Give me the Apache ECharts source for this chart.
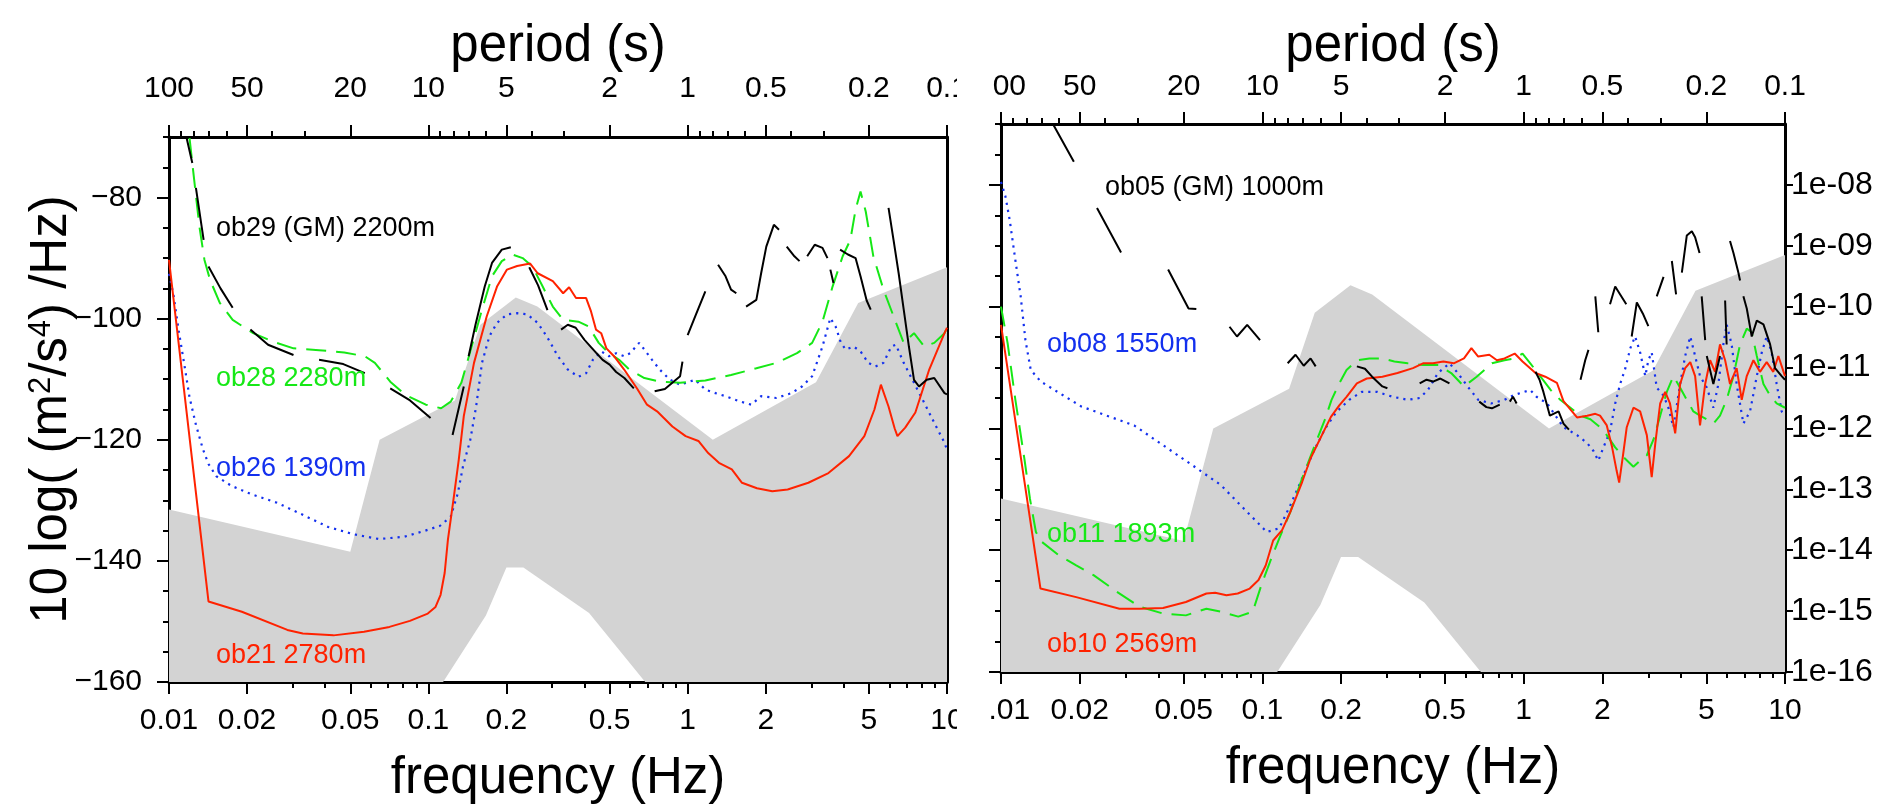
<!DOCTYPE html>
<html>
<head>
<meta charset="utf-8">
<title>OBS noise spectra</title>
<script src="https://cdn.jsdelivr.net/npm/echarts@6/dist/echarts.min.js"></script>
<style>
  html, body { margin: 0; padding: 0; background: #fff; }
  #chart { width: 1896px; height: 804px; }
</style>
</head>
<body>
<div id="chart"></div>
<script>
// ---- axis ticks ----
const freqTickLabels = ['0.01', '0.02', '0.05', '0.1', '0.2', '0.5', '1', '2', '5', '10'];
const freqMinorTicks = [0.03, 0.04, 0.06, 0.07, 0.08, 0.09, 0.3, 0.4, 0.6, 0.7, 0.8, 0.9, 3, 4, 6, 7, 8, 9];
const periodTickLabels = ['100', '50', '20', '10', '5', '2', '1', '0.5', '0.2', '0.1'];
const periodMinorTicks = [90, 80, 70, 60, 40, 30, 9, 8, 7, 6, 4, 3, 0.9, 0.8, 0.7, 0.6, 0.4, 0.3];
const dbTickValues = [-160, -140, -120, -100, -80];
const accelTickValues = [-160, -150, -140, -130, -120, -110, -100, -90, -80];
const accelTickLabels = ['1e-16', '1e-15', '1e-14', '1e-13', '1e-12', '1e-11', '1e-10', '1e-09', '1e-08'];

// ---- noise model band (grey), breakpoints in Hz / dB ----
const highModelFreq = [0.01, 0.05, 0.0649, 0.1266, 0.1587, 0.2174, 0.2632, 1.25, 3.125, 4.545, 10];
const highModelDb = [-131.5, -138.5, -120.0, -113.5, -101.0, -96.5, -98.0, -120.0, -110.5, -97.4, -91.5];
const lowModelFreq = [0.01, 0.0143, 0.0222, 0.0316, 0.0457, 0.0641, 0.0833, 0.1, 0.1667, 0.2, 0.2326, 0.4167, 0.8065, 1.25, 2.5, 5.882, 10];
const lowModelDb = [-185.1, -187.5, -187.5, -185.0, -177.5, -162.1, -166.2, -163.8, -149.0, -141.1, -141.1, -148.6, -163.7, -169.2, -166.7, -166.7, -168.0];

// ---- left panel ----
const ob29Freq = [
  0.0117, 0.0123, null,
  0.0127, 0.0136, null,
  0.0142, 0.0158, 0.0176, null,
  0.0206, 0.0241, 0.0302, null,
  0.0379, 0.047, 0.0569, null,
  0.0713, 0.085, 0.102, null,
  0.124, 0.137, null,
  0.143, 0.152, 0.165, 0.176, 0.192, 0.208, null,
  0.245, 0.265, 0.288, null,
  0.325, 0.345, 0.37, 0.40, 0.443, 0.47, 0.50, 0.53, 0.57, 0.62, null,
  0.746, 0.817, 0.935, 0.955, null,
  1.0, 1.07, 1.17, null,
  1.31, 1.40, 1.47, 1.54, null,
  1.68, 1.84, 1.92, 2.01, 2.15, 2.25, null,
  2.41, 2.58, 2.70, null,
  2.89, 3.09, 3.31, 3.46, null,
  3.55, 3.65, null,
  3.87, 4.15, 4.44, 4.64, 4.9, 5.08, null,
  5.95, 6.22, 6.51, 6.81, 7.13, 7.46, 7.80, 8.35, 8.93, 9.78, 10
];
const ob29Db = [
  -70.2, -74.3, null,
  -78.4, -87.0, null,
  -91.4, -95.0, -98.2, null,
  -101.8, -104.3, -106.0, null,
  -106.8, -107.5, -109.0, null,
  -111.5, -113.5, -116.4, null,
  -119.2, -111.2, null,
  -106.2, -101.0, -94.7, -90.8, -88.6, -88.2, null,
  -91.5, -94.5, -98.6, null,
  -101.8, -101.0, -101.5, -103.5, -105.6, -106.8, -107.6, -108.8, -109.8, -111.5, null,
  -112.0, -111.6, -109.5, -107.1, null,
  -102.7, -99.6, -95.5, null,
  -91.1, -93.0, -95.2, -95.8, null,
  -98.0, -96.9, -92.5, -88.1, -84.5, -85.3, null,
  -88.1, -89.7, -90.5, null,
  -89.7, -87.8, -88.3, -90.0, null,
  -91.9, -94.1, null,
  -88.6, -89.4, -90.0, -93.0, -97.0, -98.5, null,
  -81.7, -87.0, -92.5, -98.5, -104.6, -110.1, -111.2, -110.1, -109.8, -112.3, -112.5
];
const ob28Freq = [0.012, 0.0125, 0.0131, 0.0137, 0.0144, 0.0157, 0.0176, 0.0211, 0.0252, 0.0302, 0.0379, 0.0474, 0.0569, 0.0622, 0.0713, 0.0817, 0.0978, 0.112, 0.122, 0.134, 0.147, 0.161, 0.176, 0.192, 0.211, 0.231, 0.252, 0.276, 0.302, 0.331, 0.379, 0.415, 0.454, 0.497, 0.544, 0.595, 0.681, 0.780, 0.935, 1.17, 1.47, 1.84, 2.20, 2.64, 3.02, 3.31, 3.62, 3.96, 4.24, 4.44, 4.64, 4.86, 5.20, 5.69, 6.22, 6.81, 7.46, 8.17, 8.93, 9.78, 10];
const ob28Db = [-70.2, -77.0, -84.8, -90.3, -93.6, -97.4, -100.2, -102.4, -103.8, -104.9, -105.2, -105.6, -106.2, -107.3, -110.4, -112.6, -114.2, -114.8, -113.7, -110.6, -104.6, -98.5, -93.0, -90.5, -89.4, -90.0, -91.4, -94.7, -98.0, -100.2, -100.5, -101.3, -104.0, -105.7, -106.8, -108.4, -109.8, -110.4, -110.6, -110.2, -109.3, -108.2, -107.3, -105.7, -104.0, -100.5, -94.7, -89.7, -87.0, -82.0, -79.0, -82.3, -89.7, -95.2, -99.6, -104.0, -102.4, -104.6, -104.0, -102.4, -101.5];
const ob26Freq = [0.01, 0.0104, 0.0109, 0.0115, 0.0120, 0.0127, 0.0135, 0.0142, 0.0152, 0.0174, 0.0208, 0.0261, 0.0328, 0.0411, 0.0515, 0.0646, 0.081, 0.0974, 0.111, 0.122, 0.130, 0.136, 0.145, 0.153, 0.161, 0.172, 0.184, 0.201, 0.220, 0.241, 0.264, 0.286, 0.316, 0.345, 0.379, 0.406, 0.431, 0.464, 0.497, 0.53, 0.569, 0.60, 0.65, 0.681, 0.729, 0.78, 0.855, 0.935, 1.07, 1.17, 1.28, 1.40, 1.60, 1.76, 1.92, 2.20, 2.51, 2.76, 3.02, 3.31, 3.55, 3.72, 3.9, 4.07, 4.36, 4.64, 4.97, 5.3, 5.69, 6.1, 6.35, 6.81, 7.46, 8.17, 8.93, 9.68, 10];
const ob26Db = [-92.6, -96.0, -102.0, -108.0, -113.0, -117.5, -121.5, -124.0, -126.0, -127.6, -129.0, -130.4, -132.4, -134.4, -135.6, -136.4, -136.0, -135.0, -134.2, -132.7, -128.8, -124.4, -120.1, -114.4, -107.3, -102.9, -100.7, -99.3, -99.1, -99.3, -100.7, -102.9, -106.2, -108.4, -109.6, -109.0, -106.8, -105.4, -106.2, -105.7, -106.2, -105.7, -104.0, -105.1, -106.8, -108.4, -110.1, -110.9, -110.1, -111.7, -112.3, -112.8, -113.7, -114.2, -112.8, -113.1, -112.3, -111.2, -109.5, -104.6, -99.9, -101.3, -104.0, -105.1, -104.6, -105.4, -107.3, -107.9, -107.3, -104.6, -104.3, -107.3, -110.6, -113.9, -117.2, -120.1, -121.6];
const ob21Freq = [0.01, 0.0142, 0.0191, 0.0286, 0.0328, 0.0431, 0.0565, 0.0708, 0.0849, 0.0995, 0.1066, 0.1115, 0.1156, 0.119, 0.125, 0.131, 0.137, 0.150, 0.168, 0.184, 0.201, 0.220, 0.247, 0.264, 0.302, 0.331, 0.349, 0.371, 0.406, 0.424, 0.443, 0.464, 0.486, 0.520, 0.569, 0.637, 0.697, 0.762, 0.873, 0.982, 1.10, 1.20, 1.32, 1.48, 1.62, 1.85, 2.12, 2.43, 2.92, 3.49, 4.19, 4.80, 5.25, 5.56, 5.95, 6.28, 6.44, 6.90, 7.55, 8.54, 9.78, 10];
const ob21Db = [-90.3, -146.7, -148.4, -151.4, -152.0, -152.3, -151.7, -150.9, -149.9, -148.7, -147.6, -145.6, -142.0, -136.5, -129.9, -123.3, -116.1, -107.3, -99.6, -94.7, -91.9, -91.3, -90.9, -92.5, -93.8, -95.8, -94.8, -96.6, -96.6, -98.8, -101.8, -102.4, -104.9, -106.2, -108.4, -111.5, -114.2, -115.3, -117.8, -119.4, -120.2, -122.2, -123.8, -124.9, -127.1, -128.0, -128.5, -128.2, -127.1, -125.5, -122.7, -119.4, -115.0, -110.9, -114.5, -118.1, -119.4, -118.0, -115.5, -108.4, -102.4, -101.5];

// ---- right panel ----
const ob05Freq = [
  0.0159, 0.019, null,
  0.0233, 0.0288, null,
  0.0436, 0.0522, 0.0559, null,
  0.0749, 0.080, 0.0875, 0.098, null,
  0.125, 0.134, 0.144, 0.153, 0.160, null,
  0.230, 0.247, 0.263, 0.288, 0.301, null,
  0.40, 0.425, 0.45, 0.48, 0.52, null,
  0.676, 0.72, 0.756, 0.81, null,
  0.885, 0.91, 0.94, null,
  1.11, 1.15, 1.19, 1.26, 1.36, 1.42, 1.49, null,
  1.65, 1.72, 1.77, null,
  1.88, 1.93, null,
  2.14, 2.24, 2.34, 2.47, null,
  2.59, 2.71, 2.87, 3.00, null,
  3.23, 3.43, null,
  3.69, 3.83, null,
  4.03, 4.21, 4.40, 4.53, 4.71, null,
  4.80, 4.95, null,
  5.02, 5.32, 5.64, null,
  5.90, 5.98, null,
  6.16, 6.35, 6.63, 6.73, null,
  6.93, 7.14, 7.46, 7.80, 8.27, 8.77, 9.16, 9.71, 10
];
const ob05Db = [
  -70.2, -76.2, null,
  -83.8, -91.1, null,
  -93.9, -100.3, -100.4, null,
  -103.3, -104.9, -103.0, -105.5, null,
  -109.3, -107.9, -109.7, -108.5, -109.8, null,
  -109.8, -110.2, -111.5, -113.1, -113.4, null,
  -112.6, -112.0, -112.3, -111.8, -112.6, null,
  -115.6, -116.5, -116.7, -116.1, null,
  -115.6, -114.8, -115.9, null,
  -110.7, -112.0, -114.0, -117.9, -117.2, -119.2, -120.2, null,
  -112.0, -108.8, -107.1, null,
  -98.3, -104.2, null,
  -99.6, -96.7, -98.0, -99.6, null,
  -104.9, -99.3, -101.3, -103.2, null,
  -98.3, -95.1, null,
  -92.5, -98.0, null,
  -94.4, -88.3, -87.6, -88.6, -91.2, null,
  -98.3, -105.5, null,
  -108.1, -112.7, -108.1, null,
  -99.0, -106.2, null,
  -89.2, -91.2, -94.4, -95.7, null,
  -98.3, -100.3, -104.9, -102.3, -102.9, -106.2, -110.1, -111.4, -112.0
];
const ob08Freq = [0.01, 0.0104, 0.0108, 0.0113, 0.0119, 0.0124, 0.013, 0.0142, 0.0203, 0.0323, 0.0538, 0.0694, 0.0851, 0.104, 0.116, 0.128, 0.142, 0.157, 0.174, 0.192, 0.215, 0.240, 0.275, 0.315, 0.36, 0.40, 0.43, 0.47, 0.52, 0.56, 0.61, 0.67, 0.75, 0.845, 0.92, 1.06, 1.12, 1.23, 1.42, 1.60, 1.75, 1.85, 1.93, 2.02, 2.14, 2.24, 2.34, 2.45, 2.56, 2.67, 2.79, 2.92, 3.00, 3.09, 3.23, 3.43, 3.58, 3.74, 3.97, 4.15, 4.34, 4.53, 4.73, 5.02, 5.32, 5.56, 5.81, 5.98, 6.25, 6.53, 6.93, 7.35, 7.80, 8.15, 8.51, 8.89, 9.29, 9.71, 10];
const ob08Db = [-79.5, -81.9, -85.8, -91.8, -98.4, -105.5, -110.4, -112.3, -116.4, -119.5, -126.0, -129.3, -133.2, -137.0, -136.4, -132.6, -128.2, -123.8, -120.0, -117.3, -115.3, -114.0, -114.0, -114.8, -115.3, -115.0, -113.7, -110.9, -109.3, -110.9, -113.1, -115.3, -115.9, -115.3, -114.5, -113.7, -114.8, -115.9, -119.8, -121.1, -122.4, -123.7, -125.3, -123.1, -120.5, -115.9, -112.7, -110.1, -106.8, -104.9, -107.5, -111.4, -108.8, -107.5, -113.3, -114.6, -116.6, -119.8, -112.7, -108.1, -104.9, -108.1, -111.4, -113.3, -116.6, -112.7, -106.2, -102.9, -106.2, -112.7, -119.2, -117.2, -111.4, -107.5, -104.9, -107.5, -112.7, -117.2, -117.9];
const ob11Freq = [0.01, 0.0106, 0.01135, 0.0123, 0.0129, 0.0136, 0.0143, 0.0166, 0.0194, 0.0226, 0.0277, 0.034, 0.0417, 0.051, 0.0611, 0.0694, 0.0809, 0.0919, 0.099, 0.107, 0.116, 0.128, 0.142, 0.157, 0.174, 0.184, 0.197, 0.21, 0.23, 0.257, 0.288, 0.32, 0.36, 0.412, 0.472, 0.528, 0.591, 0.661, 0.756, 0.845, 0.925, 0.99, 1.06, 1.16, 1.27, 1.38, 1.51, 1.65, 1.80, 1.96, 2.08, 2.24, 2.41, 2.63, 2.79, 2.96, 3.14, 3.33, 3.53, 3.74, 3.97, 4.21, 4.46, 4.73, 5.02, 5.32, 5.64, 5.98, 6.35, 6.73, 7.14, 7.46, 7.80, 8.27, 8.77, 9.29, 10];
const ob11Db = [-100.0, -106.0, -115.3, -125.1, -131.5, -137.0, -138.6, -140.8, -142.5, -144.1, -146.8, -149.3, -150.4, -150.7, -149.6, -150.1, -150.9, -150.1, -145.8, -141.9, -138.1, -133.7, -128.2, -123.3, -118.4, -115.3, -112.6, -110.4, -108.8, -108.5, -108.5, -109.0, -109.3, -109.6, -109.6, -110.9, -113.1, -111.5, -109.3, -108.8, -108.5, -107.7, -109.3, -111.5, -113.7, -115.3, -116.6, -117.9, -118.5, -119.8, -121.1, -123.1, -124.7, -126.3, -125.3, -124.4, -121.8, -117.9, -114.0, -111.4, -113.3, -115.3, -117.2, -117.9, -118.5, -119.2, -117.9, -115.3, -111.4, -106.2, -103.6, -104.2, -108.1, -112.7, -114.6, -115.9, -116.6];
const ob10Freq = [0.01, 0.01416, 0.0194, 0.0284, 0.034, 0.0417, 0.051, 0.0611, 0.066, 0.0729, 0.0805, 0.0895, 0.0967, 0.103, 0.110, 0.119, 0.128, 0.142, 0.153, 0.169, 0.183, 0.197, 0.21, 0.23, 0.251, 0.288, 0.329, 0.377, 0.412, 0.45, 0.493, 0.54, 0.591, 0.631, 0.67, 0.739, 0.79, 0.845, 0.924, 0.99, 1.11, 1.21, 1.34, 1.42, 1.60, 1.75, 1.88, 1.96, 2.08, 2.18, 2.27, 2.32, 2.40, 2.48, 2.63, 2.79, 2.96, 3.09, 3.19, 3.33, 3.48, 3.63, 3.80, 3.97, 4.15, 4.34, 4.53, 4.73, 4.95, 5.17, 5.40, 5.64, 5.90, 6.16, 6.53, 6.83, 7.14, 7.57, 8.02, 8.51, 9.02, 9.43, 10];
const ob10Db = [-103.0, -146.3, -147.7, -149.6, -149.6, -149.5, -148.5, -147.1, -147.0, -147.4, -147.1, -146.3, -144.9, -142.5, -138.4, -136.7, -133.7, -128.8, -124.9, -121.1, -118.1, -116.2, -114.8, -112.6, -111.8, -111.5, -110.9, -110.1, -109.3, -109.3, -109.0, -109.3, -108.5, -106.8, -108.2, -107.9, -108.8, -108.5, -107.7, -109.0, -110.9, -111.5, -112.5, -115.5, -118.2, -117.9, -117.6, -117.9, -119.5, -123.1, -127.0, -128.9, -124.4, -119.8, -116.6, -117.2, -121.1, -128.0, -122.4, -115.9, -114.0, -115.9, -120.8, -112.7, -110.1, -109.1, -111.4, -119.5, -112.7, -108.8, -110.7, -106.2, -108.8, -112.7, -110.1, -115.3, -111.4, -108.8, -110.7, -109.1, -110.7, -108.1, -111.4];

const FONT = '"Liberation Sans", Arial, Helvetica, sans-serif';
const RED = '#ff2200', GREEN = '#16e816', BLUE = '#1330ee', BLACK = '#000';
const MINUS = '\u2212';

function pairs(f, d) {
  return f.map((x, i) => (x === null || d[i] === null) ? ['-', '-'] : [x, d[i]]);
}
function nearestLabel(labels, v) {
  let best = 0, err = Infinity;
  labels.forEach((s, i) => {
    const e = Math.abs(Math.log10(parseFloat(s)) - v);
    if (e < err) { err = e; best = i; }
  });
  return labels[best];
}
const dbMinor = [];
for (let v = -160; v <= -70; v += 5) dbMinor.push(v);

const panels = [
  { left: 169, top: 137, width: 778, height: 545, topMargin: 33, topGap: 65, yLabels: true },
  { left: 1001, top: 124, width: 784, height: 548, topMargin: 22, topGap: 52, yLabels: false }
];

const grid = [], xAxis = [], yAxis = [];
panels.forEach((p, g) => {
  grid.push({ left: p.left, top: p.top, width: p.width, height: p.height, outerBoundsMode: 'none', containLabel: false });

  // data axis (hidden log scale)
  xAxis.push({ type: 'log', gridIndex: g, logBase: 10, min: 0.01, max: 10, show: false });
  // frequency ticks
  xAxis.push({
    type: 'value', gridIndex: g, position: 'bottom', min: -2, max: 1,
    axisLine: { show: true, onZero: false, lineStyle: { color: '#000', width: 3 } },
    axisTick: { show: true, length: 12, lineStyle: { color: '#000', width: 2 },
      customValues: freqTickLabels.map(s => Math.log10(parseFloat(s))) },
    axisLabel: { show: true, customValues: freqTickLabels.map(s => Math.log10(parseFloat(s))),
      formatter: v => nearestLabel(freqTickLabels, v),
      fontSize: 30, color: '#000', fontFamily: FONT, margin: 24 },
    splitLine: { show: false },
    name: 'frequency (Hz)', nameLocation: 'middle', nameGap: 71, nameMoveOverlap: false,
    nameTextStyle: { fontSize: 51, color: '#000', fontFamily: FONT }
  });
  xAxis.push({
    type: 'value', gridIndex: g, position: 'bottom', min: -2, max: 1,
    axisLine: { show: false, onZero: false },
    axisTick: { show: true, length: 6, lineStyle: { color: '#000', width: 2 }, customValues: freqMinorTicks.map(Math.log10) },
    axisLabel: { show: false }, splitLine: { show: false }
  });
  // period ticks (top)
  xAxis.push({
    type: 'value', gridIndex: g, position: 'top', inverse: true, min: -1, max: 2,
    axisLine: { show: true, onZero: false, lineStyle: { color: '#000', width: 3 } },
    axisTick: { show: true, length: 12, lineStyle: { color: '#000', width: 2 },
      customValues: periodTickLabels.map(s => Math.log10(parseFloat(s))) },
    axisLabel: { show: true, customValues: periodTickLabels.map(s => Math.log10(parseFloat(s))),
      formatter: v => nearestLabel(periodTickLabels, v),
      fontSize: 30, color: '#000', fontFamily: FONT, margin: p.topMargin },
    splitLine: { show: false },
    name: 'period (s)', nameLocation: 'middle', nameGap: p.topGap, nameMoveOverlap: false,
    nameTextStyle: { fontSize: 51, color: '#000', fontFamily: FONT }
  });
  xAxis.push({
    type: 'value', gridIndex: g, position: 'top', inverse: true, min: -1, max: 2,
    axisLine: { show: false, onZero: false },
    axisTick: { show: true, length: 6, lineStyle: { color: '#000', width: 2 }, customValues: periodMinorTicks.map(Math.log10) },
    axisLabel: { show: false }, splitLine: { show: false }
  });

  yAxis.push({
    type: 'value', gridIndex: g, position: 'left', min: -160, max: -70,
    axisLine: { show: true, onZero: false, lineStyle: { color: '#000', width: 3 } },
    axisTick: { show: true, length: 12, lineStyle: { color: '#000', width: 2 }, customValues: dbTickValues },
    axisLabel: { show: p.yLabels, customValues: dbTickValues, formatter: v => String(v).replace('-', MINUS),
      fontSize: 30, color: '#000', fontFamily: FONT, margin: 27 },
    splitLine: { show: false },
    name: p.yLabels ? '10 log( (m{s|2}/s{s|4}) /Hz)' : '',
    nameLocation: 'middle', nameGap: 92, nameMoveOverlap: false,
    nameTextStyle: { fontSize: 51, color: '#000', fontFamily: FONT,
      rich: { s: { fontSize: 31, color: '#000', fontFamily: FONT, verticalAlign: 'top' } } }
  });
  yAxis.push({
    type: 'value', gridIndex: g, position: 'left', min: -160, max: -70,
    axisLine: { show: false, onZero: false },
    axisTick: { show: true, length: 6, lineStyle: { color: '#000', width: 2 }, customValues: dbMinor },
    axisLabel: { show: false }, splitLine: { show: false }
  });
  yAxis.push({
    type: 'value', gridIndex: g, position: 'right', min: -160, max: -70,
    axisLine: { show: true, onZero: false, lineStyle: { color: '#000', width: 3 } },
    axisTick: { show: !p.yLabels, length: 8, lineStyle: { color: '#000', width: 2 }, customValues: accelTickValues },
    axisLabel: { show: !p.yLabels, customValues: accelTickValues,
      formatter: v => accelTickLabels[Math.round((v + 160) / 10)],
      fontSize: 32, color: '#000', fontFamily: FONT, margin: 6 },
    splitLine: { show: false }
  });
});

function band(g) {
  return {
    type: 'custom', xAxisIndex: 5 * g, yAxisIndex: 3 * g, clip: true, silent: true, z: 1,
    data: [[1, -120]],
    renderItem: function (params, api) {
      const pts = [];
      highModelFreq.forEach((f, i) => pts.push(api.coord([f, highModelDb[i]])));
      for (let i = lowModelFreq.length - 1; i >= 0; i--) pts.push(api.coord([lowModelFreq[i], lowModelDb[i]]));
      return { type: 'polygon', shape: { points: pts }, style: { fill: '#d3d3d3' } };
    }
  };
}
function line(g, f, d, color, type, width) {
  return {
    type: 'line', xAxisIndex: 5 * g, yAxisIndex: 3 * g, data: pairs(f, d),
    showSymbol: false, symbol: 'none', connectNulls: false, z: 3,
    lineStyle: { color: color, width: width, type: type, cap: 'butt' }
  };
}

const series = [
  band(0),
  line(0, ob26Freq, ob26Db, BLUE, [2.2, 5], 2.2),
  line(0, ob28Freq, ob28Db, GREEN, [20, 10], 2),
  line(0, ob21Freq, ob21Db, RED, 'solid', 2),
  line(0, ob29Freq, ob29Db, BLACK, 'solid', 2),
  band(1),
  line(1, ob08Freq, ob08Db, BLUE, [2.2, 5], 2.2),
  line(1, ob11Freq, ob11Db, GREEN, [20, 10], 2),
  line(1, ob10Freq, ob10Db, RED, 'solid', 2),
  line(1, ob05Freq, ob05Db, BLACK, 'solid', 2)
];

const tags = [
  { text: 'ob29 (GM) 2200m', x: 216, y: 229, color: BLACK },
  { text: 'ob28 2280m', x: 216, y: 379, color: GREEN },
  { text: 'ob26 1390m', x: 216, y: 469, color: BLUE },
  { text: 'ob21 2780m', x: 216, y: 656, color: RED },
  { text: 'ob05 (GM) 1000m', x: 1105, y: 188, color: BLACK },
  { text: 'ob08 1550m', x: 1047, y: 345, color: BLUE },
  { text: 'ob11 1893m', x: 1047, y: 535, color: GREEN },
  { text: 'ob10 2569m', x: 1047, y: 645, color: RED }
];

const graphic = tags.map(t => ({
  type: 'text', x: t.x, y: t.y, z: 50,
  style: { text: t.text, fill: t.color, font: '27px ' + FONT, verticalAlign: 'middle' }
}));
// the two panels were cut apart: hide the label overhang between them
graphic.push({ type: 'rect', shape: { x: 957, y: 60, width: 35, height: 54 }, style: { fill: '#fff' }, z: 100 });
graphic.push({ type: 'rect', shape: { x: 957, y: 688, width: 31, height: 58 }, style: { fill: '#fff' }, z: 100 });

const chart = echarts.init(document.getElementById('chart'));
chart.setOption({
  animation: false,
  backgroundColor: '#fff',
  grid: grid,
  xAxis: xAxis,
  yAxis: yAxis,
  series: series,
  graphic: graphic
});
</script>
</body>
</html>
